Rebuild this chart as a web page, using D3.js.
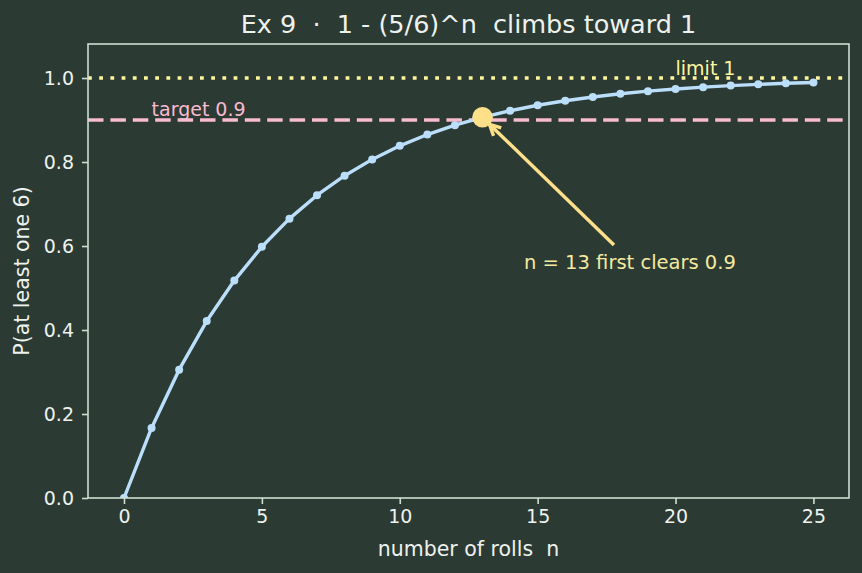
<!DOCTYPE html>
<html><head><meta charset="utf-8">
<script src="https://cdn.jsdelivr.net/npm/d3@7"></script>
<style>body{margin:0;background:#2b3a33;} svg{display:block;font-family:"DejaVu Sans",sans-serif;} text{white-space:pre;}</style>
</head><body><svg id="c" width="862" height="573"></svg>
<script>
const rolls = d3.range(0, 26);
const probs = [0, 0.1667, 0.3056, 0.4213, 0.5177, 0.5981, 0.6651, 0.7209, 0.7674, 0.8062, 0.8385, 0.8654, 0.8878, 0.9065, 0.9221, 0.9351, 0.9459, 0.9549, 0.9624, 0.9687, 0.9739, 0.9783, 0.9819, 0.9849, 0.9874, 0.9895];
const xTicks = [0, 5, 10, 15, 20, 25];
const yTicks = [0, 0.2, 0.4, 0.6, 0.8, 1.0];
const target = 0.9, limit = 1.0, firstN = 13;

const svg = d3.select("#c");
const L = 88, R = 849, T = 44, B = 498;
const x = d3.scaleLinear().domain([-1.305, 26.29]).range([L, R]);
const y = d3.scaleLinear().domain([0, 1.081]).range([B, T]);
const fg = "#cddfd3", txt = "#eef2ee";
const blue = "#bbdefb", yel = "#fff59d", pink = "#f8bbd0", amber = "#ffe08a", annTxt = "#f5eaa0";

svg.append("defs").append("clipPath").attr("id", "clip").append("rect")
  .attr("x", L).attr("y", T).attr("width", R - L).attr("height", B - T);

svg.append("text").attr("x", (L + R) / 2).attr("y", 33).attr("text-anchor", "middle")
  .attr("fill", txt).attr("font-size", 25.5).text("Ex 9  \u00b7  1 - (5/6)^n  climbs toward 1");

const plot = svg.append("g").attr("clip-path", "url(#clip)");

// reference lines
plot.append("line").attr("x1", L).attr("x2", R).attr("y1", y(limit)).attr("y2", y(limit))
  .attr("stroke", yel).attr("stroke-width", 3.6).attr("stroke-dasharray", "3.8 7.4");
plot.append("line").attr("x1", L).attr("x2", R).attr("y1", y(target)).attr("y2", y(target))
  .attr("stroke", pink).attr("stroke-width", 3.6).attr("stroke-dasharray", "15.5 6.9");
svg.append("text").attr("x", x(1)).attr("y", y(target) - 4).attr("fill", pink).attr("font-size", 19).text("target 0.9");
svg.append("text").attr("x", x(20)).attr("y", y(limit) - 3).attr("fill", yel).attr("font-size", 19).text("limit 1");

// curve
const line = d3.line().x((d, i) => x(rolls[i])).y(d => y(d));
plot.append("path").datum(probs).attr("d", line).attr("fill", "none").attr("stroke", blue).attr("stroke-width", 3.4).attr("stroke-linejoin", "round");
plot.selectAll("circle.pt").data(probs).join("circle").attr("class", "pt")
  .attr("cx", (d, i) => x(rolls[i])).attr("cy", d => y(d)).attr("r", 4).attr("fill", blue);

// highlight
plot.append("circle").attr("cx", x(firstN)).attr("cy", y(probs[firstN])).attr("r", 10.3).attr("fill", amber);

// annotation arrow
const ax0 = 614, ay0 = 245, ax1 = x(firstN) + 7, ay1 = y(probs[firstN]) + 7;
const ang = Math.atan2(ay0 - ay1, ax0 - ax1);
svg.append("line").attr("x1", ax0).attr("y1", ay0).attr("x2", ax1 + 2 * Math.cos(ang)).attr("y2", ay1 + 2 * Math.sin(ang))
  .attr("stroke", amber).attr("stroke-width", 3.4);
const hl = 11, hw = 5.5;
const p1 = [ax1 + hl * Math.cos(ang) - hw * Math.sin(ang), ay1 + hl * Math.sin(ang) + hw * Math.cos(ang)];
const p2 = [ax1 + hl * Math.cos(ang) + hw * Math.sin(ang), ay1 + hl * Math.sin(ang) - hw * Math.cos(ang)];
svg.append("path").attr("d", `M${p1}L${ax1},${ay1}L${p2}`).attr("fill", "none").attr("stroke", amber)
  .attr("stroke-width", 3.4).attr("stroke-linejoin", "miter");
svg.append("text").attr("x", 524).attr("y", 269).attr("fill", annTxt).attr("font-size", 19.5).text("n = 13 first clears 0.9");

// axes
const gx = svg.append("g").attr("transform", `translate(0,${B})`).call(d3.axisBottom(x).tickValues(xTicks).tickSize(6).tickPadding(6).tickFormat(d3.format("d")));
const gy = svg.append("g").attr("transform", `translate(${L},0)`).call(d3.axisLeft(y).tickValues(yTicks).tickSize(6).tickPadding(8).tickFormat(d3.format(".1f")));
[gx, gy].forEach(g => {
  g.select(".domain").remove();
  g.selectAll("line").attr("stroke", fg).attr("stroke-width", 1.6);
  g.selectAll("text").attr("fill", txt).attr("font-size", 19).attr("font-family", "DejaVu Sans");
});
gy.selectAll("text").attr("dy", "0.35em");
svg.append("rect").attr("x", L).attr("y", T).attr("width", R - L).attr("height", B - T)
  .attr("fill", "none").attr("stroke", fg).attr("stroke-width", 1.6);

svg.append("text").attr("x", (L + R) / 2).attr("y", 556).attr("text-anchor", "middle").attr("fill", txt).attr("font-size", 20.5).text("number of rolls  n");
svg.append("text").attr("transform", `translate(28.5,${(T + B) / 2}) rotate(-90)`).attr("text-anchor", "middle").attr("fill", txt).attr("font-size", 20.5).text("P(at least one 6)");
</script></body></html>
